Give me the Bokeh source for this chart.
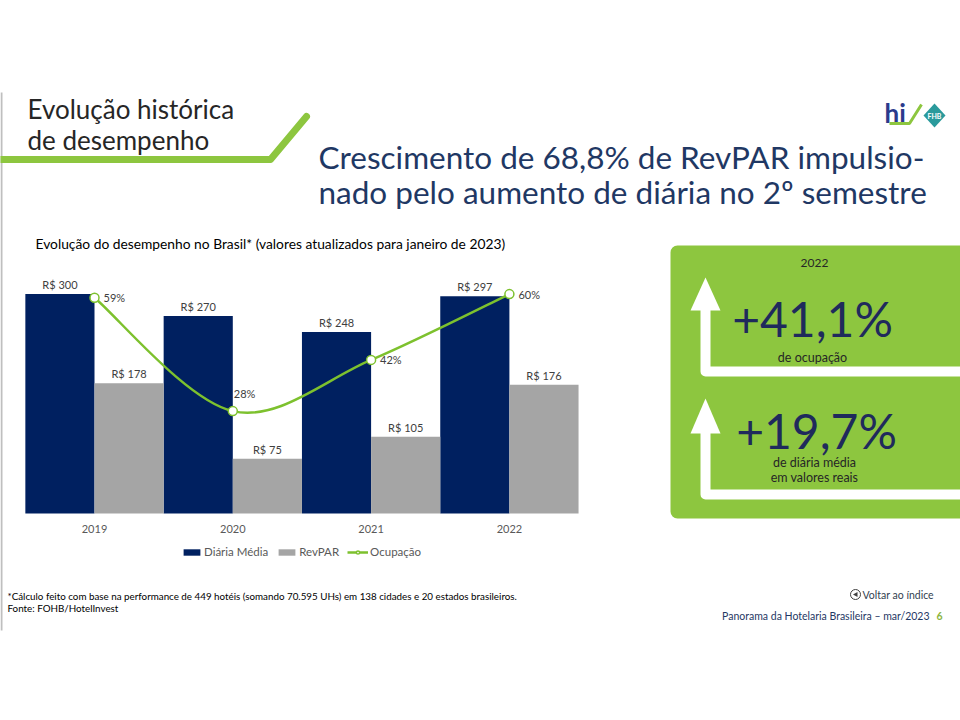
from bokeh.plotting import figure
from bokeh.models import Range1d, ColumnDataSource, Legend, LegendItem
from bokeh.core.properties import value
from bokeh.embed import file_html
from bokeh.resources import INLINE

# ---------------- data ----------------
years = ["2019", "2020", "2021", "2022"]
diaria_media = [300, 270, 248, 297]
revpar = [178, 75, 105, 176]
ocupacao = [59, 28, 42, 60]

kpi_year = "2022"
kpi_values = ["+41,1%", "+19,7%"]
kpi_captions = [["de ocupação"], ["de diária média", "em valores reais"]]

slide_title = ["Evolução histórica", "de desempenho"]
headline = ["Crescimento de 68,8% de RevPAR impulsio-",
            "nado pelo aumento de diária no 2º semestre"]
chart_title = "Evolução do desempenho no Brasil* (valores atualizados para janeiro de 2023)"
footnotes = ["*Cálculo feito com base na performance de 449 hotéis (somando 70.595 UHs) em 138 cidades e 20 estados brasileiros.",
             "Fonte: FOHB/HotelInvest"]
footer_nav = "Voltar ao índice"
footer_ref = "Panorama da Hotelaria Brasileira – mar/2023"
page_number = "6"

# ---------------- layout constants ----------------
W, H = 960, 720
PAGE_L, PAGE_T = 0, 0
X_C0 = 94.0          # page-px of first category centre
GROUP_PX = 138.3     # page-px per category
BASE_PX = 513.0      # page-px of value 0
PX_PER_VAL = 0.7314  # page-px per R$
OCC_SCALE = 5.0      # secondary axis 0-70% vs primary 0-350

FONT_NAME = "Lato"
FONT = value(FONT_NAME)
GREEN = "#8DC63F"
NAVY = "#002060"
GRAY = "#A5A5A5"
LINE_GREEN = "#7DC12E"

x_start = (PAGE_L - X_C0) / GROUP_PX
x_end = (PAGE_L + W - X_C0) / GROUP_PX
y_start = (BASE_PX - (PAGE_T + H)) / PX_PER_VAL
y_end = (BASE_PX - PAGE_T) / PX_PER_VAL

p = figure(width=W, height=H, output_backend="svg", toolbar_location=None,
           x_range=Range1d(x_start, x_end), y_range=Range1d(y_start, y_end),
           x_axis_location=None, y_axis_location=None, min_border=0)
p.xgrid.visible = False
p.ygrid.visible = False
p.outline_line_color = None
p.background_fill_color = "white"
p.border_fill_color = "white"
p.extra_x_ranges = {"px": Range1d(PAGE_L, PAGE_L + W)}
p.extra_y_ranges = {"px": Range1d(PAGE_T + H, PAGE_T),
                    "occ": Range1d(y_start / OCC_SCALE, y_end / OCC_SCALE)}

PX = dict(x_range_name="px", y_range_name="px")


def txt(x, y, s, size, color, align="left", baseline="middle", style="normal"):
    p.text(x=[x], y=[y], text=[s], text_font=FONT, text_font_size=size,
           text_color=color, text_align=align, text_baseline=baseline,
           text_font_style=style, **PX)


# ---------------- slide decorations ----------------
p.line(x=[1, 1], y=[92, 630], line_width=2, line_color="#BFBFBF", **PX)
txt(27, 108, slide_title[0], "26px", "#262626")
txt(27, 139, slide_title[1], "26px", "#262626")
p.line(x=[0, 270, 306], y=[159, 159, 116], line_width=7, line_color=GREEN,
       line_cap="round", line_join="round", **PX)

txt(318, 156, headline[0], "31.5px", "#1F3864")
txt(318, 191, headline[1], "31.5px", "#1F3864")

# logo
txt(884, 112, "hi", "26px", "#2B3A8C", style="bold")
p.line(x=[889, 909, 921], y=[123, 123, 104], line_width=3, line_color=GREEN, **PX)
p.patch(x=[923, 934, 945, 934], y=[115, 103, 115, 127], fill_color="#2A9A9C",
        line_color=None, **PX)
txt(934, 115, "FHB", "7px", "white", align="center", style="bold")

txt(35, 243, chart_title, "13.8px", "#000000")

# ---------------- KPI panel ----------------
p.quad(left=[670], right=[PAGE_L + W + 10], top=[245], bottom=[518], fill_color=GREEN,
       line_color=None, border_radius=7, **PX)
p.multi_line(xs=[[705, 705, PAGE_L + W], [705, 705, PAGE_L + W]],
             ys=[[305, 371, 371], [430, 494, 494]], line_width=10,
             line_color="white", line_join="round", **PX)
p.patches(xs=[[690, 720, 705], [690, 720, 705]], ys=[[310, 310, 277], [433, 433, 398]],
          fill_color="white", line_color=None, **PX)
txt(814, 262, kpi_year, "12px", "#262626", align="center")
txt(812, 318, kpi_values[0], "48px", "#1F2A5C", align="center")
txt(812, 357, kpi_captions[0][0], "12.5px", "#262626", align="center")
txt(816, 430, kpi_values[1], "48px", "#1F2A5C", align="center")
txt(814, 462, kpi_captions[1][0], "12.5px", "#262626", align="center")
txt(814, 477, kpi_captions[1][1], "12.5px", "#262626", align="center")

# ---------------- footer ----------------
txt(7, 595, footnotes[0], "9.8px", "#000000")
txt(7, 607, footnotes[1], "9.8px", "#000000")
p.scatter(x=[855], y=[594], size=10, marker="circle", fill_color="white",
          line_color="#404040", line_width=1, **PX)
p.patch(x=[852.5, 857, 857], y=[594, 591.5, 596.5], fill_color="#404040",
        line_color=None, **PX)
txt(862, 594, footer_nav, "10.5px", "#333F50")
txt(929, 615, footer_ref, "10.5px", "#1F3864", align="right")
txt(936, 615, page_number, "10.5px", "#8DB53F", style="bold")

# ---------------- chart ----------------
idx = list(range(len(years)))
src = ColumnDataSource(dict(
    xd=[i - 0.25 for i in idx], xr=[i + 0.25 for i in idx], xc=idx,
    diaria=diaria_media, revpar=revpar, occ=ocupacao,
    dlab=[f"R$ {v}" for v in diaria_media], rlab=[f"R$ {v}" for v in revpar],
    year=years, zero=[0] * len(years)))

r_d = p.vbar(x="xd", width=0.5, top="diaria", bottom=0, source=src,
             fill_color=NAVY, line_color=None)
r_r = p.vbar(x="xr", width=0.5, top="revpar", bottom=0, source=src,
             fill_color=GRAY, line_color=None)

p.text(x="xd", y="diaria", text="dlab", source=src, text_font=FONT,
       text_font_size="11px", text_color="#404040", text_align="center",
       text_baseline="bottom", y_offset=-3)
p.text(x="xr", y="revpar", text="rlab", source=src, text_font=FONT,
       text_font_size="11px", text_color="#404040", text_align="center",
       text_baseline="bottom", y_offset=-3)
p.text(x="xc", y="zero", text="year", source=src, text_font=FONT,
       text_font_size="11px", text_color="#595959", text_align="center",
       text_baseline="middle", y_offset=15)

# smoothed occupancy line (cubic Bezier through the data points)
n = len(ocupacao)
x0s, y0s, x1s, y1s, cx0, cy0, cx1, cy1 = [], [], [], [], [], [], [], []
for k in range(n - 1):
    a = max(k - 1, 0)
    b = min(k + 2, n - 1)
    x0s.append(idx[k]); y0s.append(ocupacao[k])
    x1s.append(idx[k + 1]); y1s.append(ocupacao[k + 1])
    cx0.append(idx[k] + (idx[k + 1] - idx[a]) / 6.0)
    cy0.append(ocupacao[k] + (ocupacao[k + 1] - ocupacao[a]) / 6.0)
    cx1.append(idx[k + 1] - (idx[b] - idx[k]) / 6.0)
    cy1.append(ocupacao[k + 1] - (ocupacao[b] - ocupacao[k]) / 6.0)
r_bez = p.bezier(x0=x0s, y0=y0s, x1=x1s, y1=y1s, cx0=cx0, cy0=cy0, cx1=cx1, cy1=cy1,
                 line_color=LINE_GREEN, line_width=2.5, y_range_name="occ")
r_pts = p.scatter(x="xc", y="occ", source=src, size=9, marker="circle",
                  fill_color="white", line_color=LINE_GREEN, line_width=1.5,
                  y_range_name="occ")

# occupancy labels
sel = [0, 2, 3]
lab_src_main = ColumnDataSource(dict(
    x=[idx[i] for i in sel], y=[ocupacao[i] for i in sel],
    t=[f"{ocupacao[i]}%" for i in sel]))
p.text(x="x", y="y", text="t", source=lab_src_main, text_font=FONT,
       text_font_size="11px", text_color="#404040", text_align="left",
       text_baseline="middle", x_offset=9, y_range_name="occ")
p.text(x=[idx[1]], y=[ocupacao[1]], text=[f"{ocupacao[1]}%"], text_font=FONT,
       text_font_size="11px", text_color="#404040", text_align="left",
       text_baseline="middle", x_offset=1, y_offset=-18, y_range_name="occ")

legend = Legend(items=[
    LegendItem(label="Diária Média", renderers=[r_d]),
    LegendItem(label="RevPAR", renderers=[r_r]),
    LegendItem(label="Ocupação", renderers=[r_bez, r_pts]),
], orientation="horizontal", location=(181, H - 558), glyph_width=21, glyph_height=8,
    label_text_font=FONT_NAME, label_text_font_size="11.5px", label_text_color="#595959",
    spacing=8, padding=0, margin=0, label_standoff=2, border_line_color=None,
    background_fill_alpha=0, label_height=12)
p.add_layout(legend, "center")

open("out.html", "w").write(file_html(p, INLINE))
